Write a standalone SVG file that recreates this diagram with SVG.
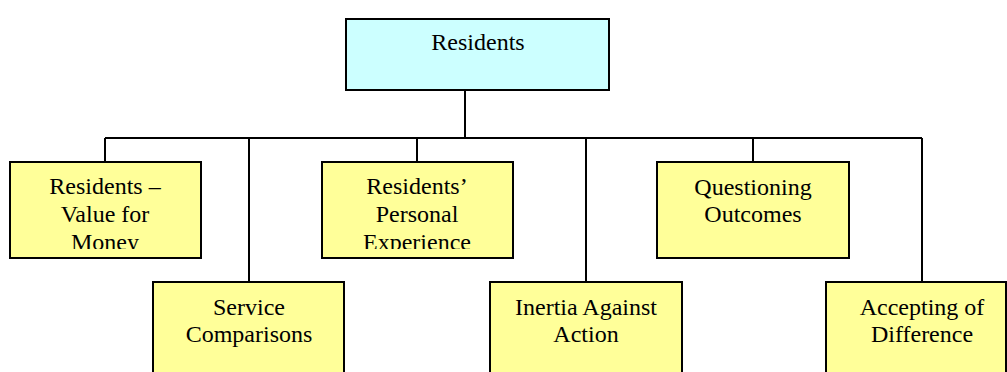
<svg xmlns="http://www.w3.org/2000/svg" width="1007" height="372" viewBox="0 0 1007 372">
  <style>
    .box { stroke: #000; stroke-width: 2; }
    .root { fill: #CCFFFF; }
    .leaf { fill: #FFFF99; }
    .lbl { font-family: "Liberation Serif", "Times New Roman", serif; font-size: 24px; fill: #000; text-anchor: middle; }
    .wire { stroke: #000; stroke-width: 2; fill: none; }
  </style>
  <defs>
    <clipPath id="clipA"><rect x="9" y="162" width="192" height="87"/></clipPath>
    <clipPath id="clipB"><rect x="322" y="162" width="192" height="87"/></clipPath>
  </defs>
  <rect width="1007" height="372" fill="#fff"/>

  <g id="connectors">
    <path class="wire" d="M465 90 V138 M105 138 H922 M105 138 V162 M417 138 V162 M753 138 V162 M249 138 V282 M586 138 V282 M922 138 V282"/>
  </g>

  <g id="residents">
    <rect class="box root" x="346" y="19" width="263" height="71"/>
    <text class="lbl" x="478" y="50">Residents</text>
  </g>

  <g id="value-for-money">
    <rect class="box leaf" x="10" y="162" width="191" height="96"/>
    <g clip-path="url(#clipA)">
      <text class="lbl" x="105" y="194">Residents –</text>
      <text class="lbl" x="105" y="222">Value for</text>
      <text class="lbl" x="105" y="250">Money</text>
    </g>
  </g>

  <g id="personal-experience">
    <rect class="box leaf" x="322" y="162" width="191" height="96"/>
    <g clip-path="url(#clipB)">
      <text class="lbl" x="417" y="194">Residents’</text>
      <text class="lbl" x="417" y="222">Personal</text>
      <text class="lbl" x="417" y="250">Experience</text>
    </g>
  </g>

  <g id="questioning-outcomes">
    <rect class="box leaf" x="657" y="162" width="192" height="96"/>
    <text class="lbl" x="753" y="195">Questioning</text>
    <text class="lbl" x="753" y="222">Outcomes</text>
  </g>

  <g id="service-comparisons">
    <rect class="box leaf" x="153" y="282" width="191" height="100"/>
    <text class="lbl" x="249" y="315">Service</text>
    <text class="lbl" x="249" y="342">Comparisons</text>
  </g>

  <g id="inertia-against-action">
    <rect class="box leaf" x="490" y="282" width="192" height="100"/>
    <text class="lbl" x="586" y="315">Inertia Against</text>
    <text class="lbl" x="586" y="342">Action</text>
  </g>

  <g id="accepting-of-difference">
    <rect class="box leaf" x="826" y="282" width="180" height="100"/>
    <text class="lbl" x="922" y="315">Accepting of</text>
    <text class="lbl" x="922" y="342">Difference</text>
  </g>
</svg>
